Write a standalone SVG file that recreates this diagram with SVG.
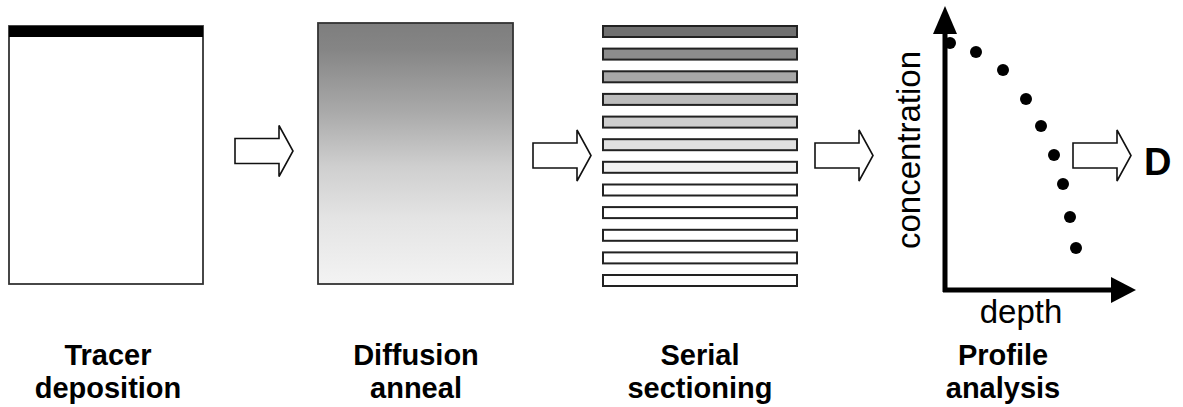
<svg xmlns="http://www.w3.org/2000/svg" width="1183" height="407" viewBox="0 0 1183 407">
  <style>
    .lbl { font-family: "Liberation Sans", Arial, sans-serif; font-weight: bold; font-size: 29px; fill: #000; text-anchor: middle; }
    .ax { font-family: "Liberation Sans", Arial, sans-serif; font-size: 33px; fill: #000; }
    .strip { stroke: #222; stroke-width: 2; }
    .block { stroke: #333; stroke-width: 1.8; }
    .arrow { fill: #fff; stroke: #111; stroke-width: 1.6; stroke-linejoin: miter; }
    .dot { fill: #000; }
    .axis { stroke: #000; stroke-width: 5; fill: none; }
  </style>
  <defs>
    <linearGradient id="anneal" x1="0" y1="0" x2="0" y2="1">
      <stop offset="0" stop-color="#7e7e7e"/>
      <stop offset="0.1" stop-color="#858585"/>
      <stop offset="0.35" stop-color="#ababab"/>
      <stop offset="0.55" stop-color="#cfcfcf"/>
      <stop offset="0.75" stop-color="#e4e4e4"/>
      <stop offset="1" stop-color="#f3f3f3"/>
    </linearGradient>
    <path id="bigArrow" class="arrow" d="M0,-12.5 H44 V-25.5 L58,0 L44,25.5 V12.5 H0 Z"/>
  </defs>

  <g id="tracer-deposition">
    <rect class="block" x="9" y="26" width="194" height="258" fill="#fff"/>
    <rect x="9" y="26" width="194" height="11" fill="#000"/>
    <text class="lbl" x="108" y="365">Tracer</text>
    <text class="lbl" x="108" y="398">deposition</text>
  </g>

  <g id="diffusion-anneal">
    <rect class="block" x="318" y="23" width="195" height="261" fill="url(#anneal)"/>
    <text class="lbl" x="416" y="365">Diffusion</text>
    <text class="lbl" x="416" y="398">anneal</text>
  </g>

  <g id="serial-sectioning">
    <rect class="strip" x="603" y="26" width="194" height="11" fill="#707070"/>
    <rect class="strip" x="603" y="48.6" width="194" height="11" fill="#8c8c8c"/>
    <rect class="strip" x="603" y="71.3" width="194" height="11" fill="#a8a8a8"/>
    <rect class="strip" x="603" y="93.9" width="194" height="11" fill="#bcbcbc"/>
    <rect class="strip" x="603" y="116.6" width="194" height="11" fill="#cfcfcf"/>
    <rect class="strip" x="603" y="139.2" width="194" height="11" fill="#e0e0e0"/>
    <rect class="strip" x="603" y="161.8" width="194" height="11" fill="#f2f2f2"/>
    <rect class="strip" x="603" y="184.5" width="194" height="11" fill="#fff"/>
    <rect class="strip" x="603" y="207.1" width="194" height="11" fill="#fff"/>
    <rect class="strip" x="603" y="229.8" width="194" height="11" fill="#fff"/>
    <rect class="strip" x="603" y="252.4" width="194" height="11" fill="#fff"/>
    <rect class="strip" x="603" y="275" width="194" height="11" fill="#fff"/>
    <text class="lbl" x="700" y="365">Serial</text>
    <text class="lbl" x="700" y="398">sectioning</text>
  </g>

  <g id="profile-analysis">
    <path class="axis" d="M945,292 V30 M943,290 H1114"/>
    <polygon points="945,6 933,34 957,34" fill="#000"/>
    <polygon points="1136,290 1111,277 1111,303" fill="#000"/>
    <circle class="dot" cx="950" cy="43" r="6"/>
    <circle class="dot" cx="976" cy="52" r="6"/>
    <circle class="dot" cx="1003" cy="70" r="6"/>
    <circle class="dot" cx="1026" cy="99" r="6"/>
    <circle class="dot" cx="1041" cy="126" r="6"/>
    <circle class="dot" cx="1054" cy="155" r="6"/>
    <circle class="dot" cx="1063" cy="184" r="6"/>
    <circle class="dot" cx="1070" cy="217" r="6"/>
    <circle class="dot" cx="1076" cy="248" r="6"/>
    <text class="ax" transform="translate(920,150) rotate(-90)" text-anchor="middle">concentration</text>
    <text class="ax" x="1021" y="323" text-anchor="middle">depth</text>
    <text class="lbl" x="1003" y="365">Profile</text>
    <text class="lbl" x="1003" y="398">analysis</text>
  </g>

  <g id="result-D">
    <text x="1144" y="175" font-family="Liberation Sans, Arial, sans-serif" font-weight="bold" font-size="38">D</text>
  </g>

  <g id="connectors">
    <use href="#bigArrow" x="235" y="151"/>
    <use href="#bigArrow" x="533" y="155.5"/>
    <use href="#bigArrow" x="815" y="155.5"/>
    <use href="#bigArrow" x="1073" y="155.5"/>
  </g>
</svg>
